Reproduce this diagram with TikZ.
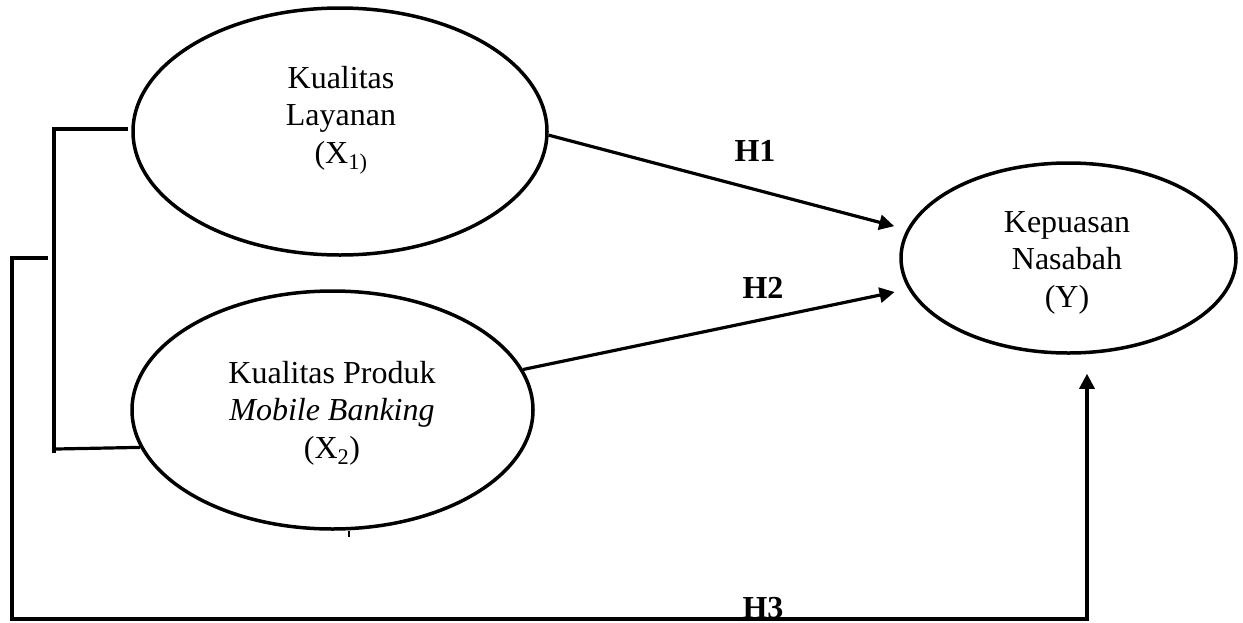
\documentclass[tikz,border=0pt]{standalone}
\usepackage{fontspec}
\setmainfont{Liberation Serif}
\usetikzlibrary{shapes.geometric,arrows.meta}
\begin{document}
\begin{tikzpicture}[x=1pt,y=-1pt,
  var/.style={draw,ellipse,line width=3.5pt,inner sep=0pt},
  conn/.style={draw,line width=3.2pt},
  arr/.style={conn,-{Triangle[length=15pt,width=15pt]}},
  vtext/.style={align=center,anchor=base,inner sep=0pt,font=\fontsize{32}{37.5}\selectfont},
  hlabel/.style={anchor=base,inner sep=0pt,font=\fontsize{32}{37.5}\selectfont\bfseries}]
\useasboundingbox (0,0) rectangle (1243,622);
% variables
\node[var,minimum width=414pt,minimum height=247pt] (e1) at (340,131.5) {};
\node[var,minimum width=401pt,minimum height=238pt] (e2) at (332.5,410) {};
\node[var,minimum width=335pt,minimum height=190pt] (e3) at (1068.5,258) {};
\node[vtext] (t1) at (341,163) {Kualitas\\Layanan\\(X\textsubscript{1)}};
\node[vtext] (t2) at (332,458) {Kualitas Produk\\\textit{Mobile Banking}\\(X\textsubscript{2})};
\node[vtext] (t3) at (1067,307) {Kepuasan\\Nasabah\\(Y)};
% hypotheses
\draw[arr,shorten >=13pt] (e1.-1.5) -- (e3.170.2);
\draw[arr,shorten >=14pt] (e2.12.8) -- (e3.191.5);
\node[hlabel] (h1) at (755,161) {H1};
\node[hlabel] (h2) at (763,298) {H2};
% bracket joining X1 and X2
\coordinate (bt) at (54,129);
\coordinate (bb) at (54,453);
\coordinate (bs) at (56,449);
\coordinate (tick) at (349,537);
\draw[conn] (e1.west |- bt) ++(-3,0) -- (bt) -- (bb);
\draw[conn] (bs) -- (e2.191.6);
\draw[line width=2pt] (tick) -- (tick |- e2.south);
% joint path H3
\coordinate (o1) at (48,258);
\coordinate (o2) at (12,258);
\coordinate (o3) at (12,619);
\coordinate (o4) at (1087,619);
\draw[arr,shorten >=19pt] (o1) -- (o2) -- (o3) -- (o4) -- (o4 |- e3.south);
\node[hlabel] (h3) at (763,618) {H3};
\end{tikzpicture}
\end{document}
